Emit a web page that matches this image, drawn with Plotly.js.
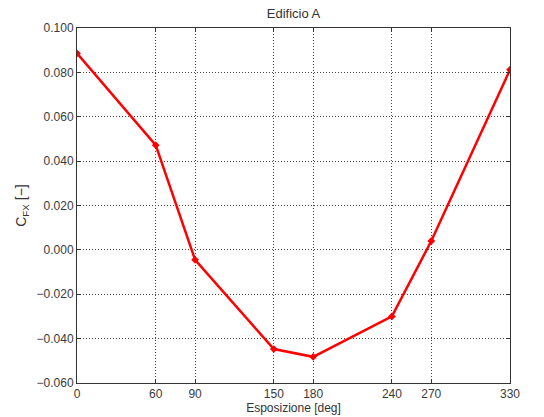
<!DOCTYPE html>
<html><head><meta charset="utf-8">
<script src="https://cdn.plot.ly/plotly-3.0.1.min.js"></script>
<style>html,body{margin:0;padding:0;background:#fff}#chart{width:544px;height:417px}</style>
</head><body><div id="chart"></div>
<script>
const angles = [0, 60, 90, 150, 180, 240, 270, 330];
const cfx = [0.0886, 0.0472, -0.0045, -0.0447, -0.0482, -0.0300, 0.0040, 0.0812];
const xTicks = [0, 60, 90, 150, 180, 240, 270, 330];
const yTicks = [-0.06, -0.04, -0.02, 0, 0.02, 0.04, 0.06, 0.08, 0.10];

const trace = {
  x: angles, y: cfx, type: 'scatter', mode: 'lines+markers',
  line: {color: '#ff0000', width: 2.5},
  marker: {color: '#ff0000', size: 6, symbol: 'diamond'}
};
const font = {family: 'Liberation Sans, Arial, sans-serif', size: 12, color: '#3a3a3a'};
const layout = {
  width: 544, height: 417,
  margin: {l: 77, r: 34, t: 28, b: 34},
  paper_bgcolor: '#fff', plot_bgcolor: '#fff',
  font: font,
  showlegend: false,
  title: {text: 'Edificio A', x: 0.5, xref: 'paper', xanchor: 'center', y: 0.968, yanchor: 'middle', font: {family: font.family, size: 13, color: '#333'}},
  xaxis: {
    range: [0, 330], tickvals: xTicks, ticktext: xTicks.map(String),
    showline: true, mirror: 'ticks', linecolor: '#333', linewidth: 1,
    ticks: 'inside', ticklen: 4, tickcolor: '#333',
    showgrid: true, gridcolor: '#444', griddash: '1px,2px', gridwidth: 1,
    zeroline: false, tickfont: font,
    title: {text: 'Esposizione [deg]', font: {family: font.family, size: 12, color: '#333'}, standoff: 3}
  },
  yaxis: {
    range: [-0.06, 0.10], tickvals: yTicks, tickformat: '.3f',
    showline: true, mirror: 'ticks', linecolor: '#333', linewidth: 1,
    ticks: 'inside', ticklen: 4, tickcolor: '#333',
    showgrid: true, gridcolor: '#444', griddash: '1px,2px', gridwidth: 1,
    zeroline: false, tickfont: font,
    title: {text: 'C<sub>FX</sub> [\u2212]', font: {family: font.family, size: 14, color: '#333'}, standoff: 6}
  }
};
Plotly.newPlot('chart', [trace], layout, {displayModeBar: false, staticPlot: true});
</script></body></html>
